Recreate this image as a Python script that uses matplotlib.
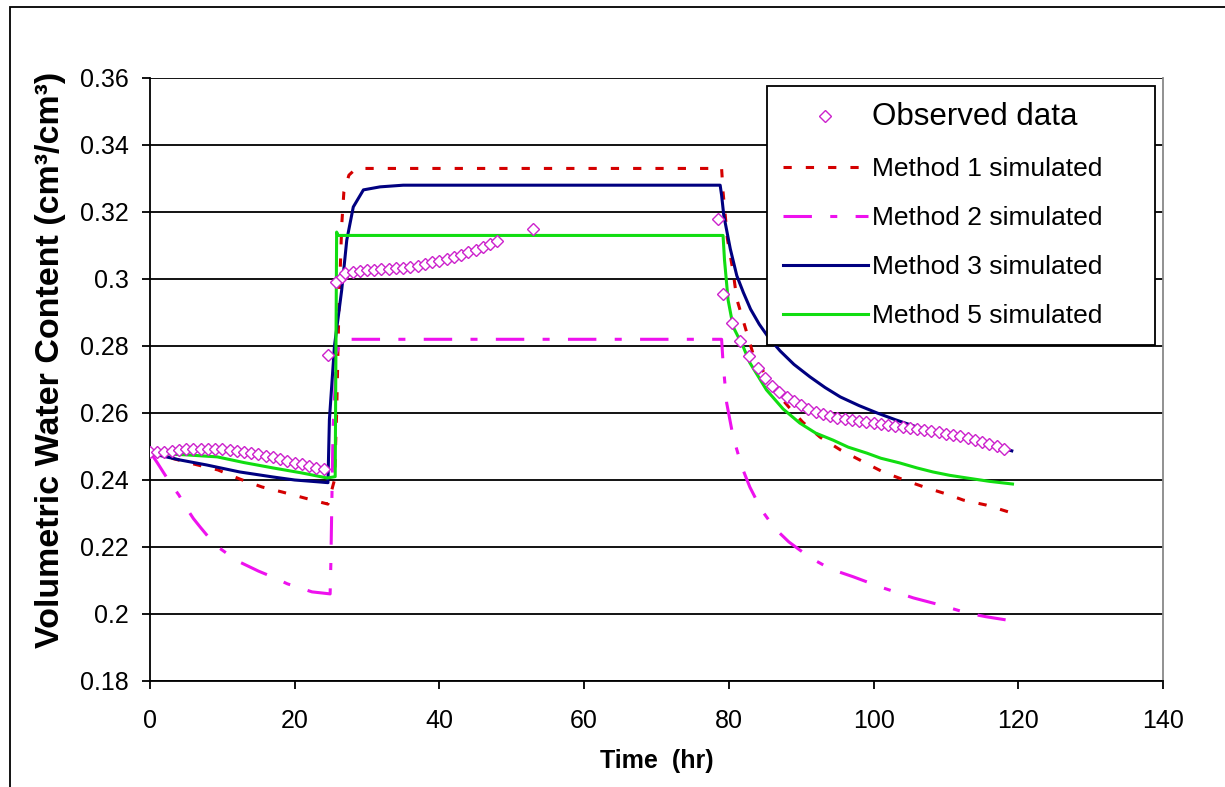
import numpy as np
import matplotlib
matplotlib.use('Agg')
import matplotlib.pyplot as plt
from matplotlib.ticker import FuncFormatter, MultipleLocator
from matplotlib.patches import Rectangle

plt.rcParams['font.family'] = ['Liberation Sans', 'DejaVu Sans']

# ------ DATA ------
obs_t = [0, 1, 2, 3, 4, 5, 6, 7, 8, 9, 10, 11, 12, 13, 14, 15, 16, 17, 18, 19, 20, 21, 22, 23, 24,
         24.6, 25.7, 26.5, 27, 28, 29, 30, 31, 32, 33, 34, 35, 36, 37, 38, 39, 40, 41, 42, 43, 44,
         45, 46, 47, 48, 53,
         78.5, 79.2, 80.5, 81.6, 82.8, 84, 85, 86, 87, 88, 89, 90, 91, 92, 93, 94, 95, 96, 97, 98,
         99, 100, 101, 102, 103, 104, 105, 106, 107, 108, 109, 110, 111, 112, 113, 114, 115, 116,
         117, 118]
obs_v = [0.2485, 0.2485, 0.2485, 0.2488, 0.2490, 0.2492, 0.2493, 0.2493, 0.2493, 0.2492, 0.2492,
         0.2490, 0.2488, 0.2485, 0.2482, 0.2478, 0.2473, 0.2468, 0.2463, 0.2458, 0.2452, 0.2447,
         0.2442, 0.2437, 0.2432,
         0.2773, 0.2990, 0.3005, 0.3018, 0.3022, 0.3024, 0.3026, 0.3028, 0.3030, 0.3031, 0.3033,
         0.3034, 0.3036, 0.3040, 0.3044, 0.3050, 0.3055, 0.3061, 0.3067, 0.3073, 0.3080, 0.3088,
         0.3096, 0.3105, 0.3114, 0.3150,
         0.3178, 0.2955, 0.2868, 0.2815, 0.2770, 0.2735, 0.2705, 0.2680, 0.2662, 0.2648, 0.2635,
         0.2623, 0.2613, 0.2603, 0.2596, 0.2590, 0.2585, 0.2581, 0.2578, 0.2575, 0.2573, 0.2570,
         0.2567, 0.2564, 0.2561, 0.2558, 0.2555, 0.2552, 0.2549, 0.2546, 0.2542, 0.2538, 0.2534,
         0.2530, 0.2525, 0.2520, 0.2514, 0.2508, 0.2500, 0.2492]

m1_t = [0, 3, 6, 9.4, 12.4, 15.5, 18.3, 21.4, 24.6, 25.5, 25.8, 26.1, 26.5, 26.8, 27.5, 28.5,
        79.0, 79.2, 79.8, 80.6, 81.1, 82.2, 83.3, 85.0, 86.6, 88.4, 90.2, 92.6, 95.4, 98.6, 101.3,
        104.6, 107.4, 110.1, 112.4, 115.6, 118.6]
m1_v = [0.248, 0.2465, 0.2448, 0.2430, 0.2403, 0.2379, 0.2364, 0.2346, 0.2328, 0.2400, 0.2600,
        0.2900, 0.3160, 0.3260, 0.3310, 0.3330,
        0.3330, 0.3260, 0.3120, 0.3020, 0.2940, 0.2860, 0.2780, 0.2715, 0.2660, 0.2615, 0.2573,
        0.2528, 0.2490, 0.2454, 0.2424, 0.2397, 0.2376, 0.2358, 0.2340, 0.2325, 0.2305]

m2_t = [0, 0.5, 1, 2, 3, 4, 5, 6, 7, 8, 9.4, 11, 12.4, 15, 17, 19, 20.7, 22.4, 24.9, 25.0, 25.3,
        25.8, 26.5, 79.0, 79.2, 79.7, 80.6, 81.8, 82.9, 84.5, 85.7, 87, 88.3, 89.8, 91.5, 93.5,
        95.3, 97.2, 101.3, 105.5, 109.2, 112.9, 115.5, 118.4]
m2_v = [0.248, 0.2468, 0.2452, 0.2418, 0.2385, 0.2355, 0.2318, 0.2285, 0.2258, 0.2232, 0.2200,
        0.2175, 0.2155, 0.2128, 0.2110, 0.2090, 0.2078, 0.2066, 0.2060, 0.2150, 0.2550, 0.2780,
        0.2820, 0.2820, 0.2750, 0.2630, 0.2528, 0.2439, 0.2379, 0.2311, 0.2275, 0.2242, 0.2215,
        0.2191, 0.2165, 0.2141, 0.2125, 0.2111, 0.2078, 0.2048, 0.2027, 0.2003, 0.1992, 0.1982]

m3_t = [0, 4.1, 7.8, 12.4, 17, 20, 23.5, 24.6, 24.8, 25.5, 26.5, 27.2, 28.1, 29.5, 31.8, 35,
        78.8, 79.0, 79.3, 80.2, 81.1, 82.0, 83.0, 84.2, 85.5, 87.1, 89.0, 91.2, 93.3, 95.4, 98,
        100.5, 103, 106, 109.5, 112.9, 116, 119.1]
m3_v = [0.248, 0.2460, 0.2445, 0.2424, 0.2409, 0.2400, 0.2394, 0.2392, 0.2580, 0.2800, 0.2967,
        0.3116, 0.3215, 0.3266, 0.3275, 0.3280,
        0.3280, 0.3250, 0.3190, 0.3090, 0.3010, 0.2960, 0.2910, 0.2865, 0.2825, 0.2785, 0.2745,
        0.2708, 0.2676, 0.2648, 0.2622, 0.2600, 0.2580, 0.2558, 0.2540, 0.2525, 0.2507, 0.2487]

m5_t = [0, 5, 9.3, 13, 17, 21, 24.5, 25.6, 25.8, 26.0, 79.2, 79.4, 79.9, 80.6, 82, 82.9, 85.2,
        87.5, 89.8, 92, 94.4, 96.5, 99.1, 101, 103.6, 106, 108.2, 110.5, 112.9, 116, 119.2]
m5_v = [0.248, 0.2475, 0.2469, 0.2452, 0.2436, 0.2421, 0.2406, 0.2410, 0.3140, 0.3130, 0.3130,
        0.3057, 0.2937, 0.2857, 0.2797, 0.2750, 0.2669, 0.2612, 0.2570, 0.2540, 0.2519, 0.2498,
        0.2480, 0.2465, 0.2451, 0.2436, 0.2424, 0.2414, 0.2406, 0.2396, 0.2388]

labels = ['Observed data', 'Method 1 simulated', 'Method 2 simulated',
          'Method 3 simulated', 'Method 5 simulated']

# ------ FIGURE ------
fig = plt.figure(figsize=(12.25, 7.87), dpi=100)
ax = fig.add_axes([0.1224, 0.1347, 0.8270, 0.7662])

# outer chart border
fig.patches.append(Rectangle((0.0082, -0.2), 1.5, 1.1911, transform=fig.transFigure,
                             fill=False, edgecolor='black', linewidth=1.3))

ax.plot(obs_t, obs_v, 'D', markersize=6.3, markerfacecolor='white', markeredgecolor='#CC22CC',
        markeredgewidth=1.0, linestyle='none', label=labels[0], zorder=4)
ax.plot(m1_t, m1_v, color='#D40000', linewidth=2.2, dashes=(2.7, 4.6), label=labels[1], zorder=3)
ax.plot(m2_t, m2_v, color='#EE11EE', linewidth=2.2, dashes=(9.3, 6, 2.3, 6), label=labels[2], zorder=3)
ax.plot(m3_t, m3_v, color='#000080', linewidth=2.2, label=labels[3], zorder=3)
ax.plot(m5_t, m5_v, color='#11DD11', linewidth=2.2, label=labels[4], zorder=3)

ax.set_xlim(0, 140)
ax.set_ylim(0.18, 0.36)
ax.xaxis.set_major_locator(MultipleLocator(20))
ax.yaxis.set_major_locator(MultipleLocator(0.02))
ax.yaxis.set_major_formatter(FuncFormatter(lambda v, p: '%g' % round(v, 2)))

ax.yaxis.grid(True, color='black', linewidth=1.3)
gl = ax.get_ygridlines()
gl[-1].set_color('#888888')
ax.set_axisbelow(True)

ax.spines['top'].set_visible(False)
ax.spines['right'].set_color('#888888')
ax.spines['right'].set_linewidth(1.3)
ax.spines['left'].set_linewidth(1.3)
ax.spines['bottom'].set_linewidth(1.3)

ax.tick_params(axis='both', direction='out', length=6, width=1.3, labelsize=18, colors='black')
ax.tick_params(axis='x', pad=14)
ax.tick_params(axis='y', pad=9)

ax.set_xlabel('Time  (hr)', fontsize=18, fontweight='bold', labelpad=12)
ax.set_ylabel('Volumetric Water Content (cm³/cm³)', fontsize=24.5, fontweight='bold')
ax.yaxis.set_label_coords(-0.083, 0.532)

leg = ax.legend(loc='upper left', bbox_to_anchor=(0.609, 0.552, 0.383, 0.435), mode='expand',
                borderaxespad=0, fontsize=19, handlelength=3.2, handletextpad=0.15,
                borderpad=0.62, labelspacing=0.95, fancybox=False, framealpha=1,
                edgecolor='black')
leg.get_frame().set_linewidth(1.3)
leg.get_texts()[0].set_fontsize(22.5)

fig.savefig('out.png', dpi=100)
